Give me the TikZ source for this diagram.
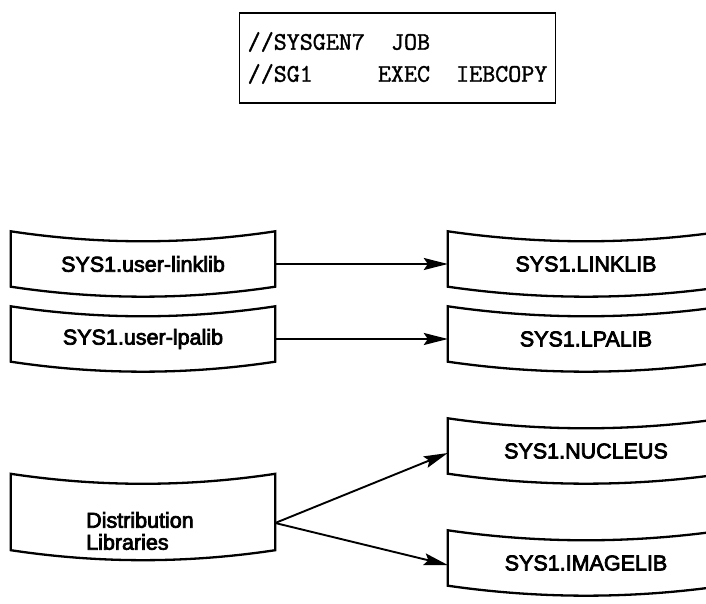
\documentclass[tikz,border=0pt]{standalone}
\usepackage{fontspec}
\newfontfamily\diskfont[FakeBold=3.5]{Liberation Sans}
\newfontfamily\jclfont[FakeBold=1.5]{Latin Modern Mono}
\usetikzlibrary{arrows.meta,calc}

% outline of a disk data set: both ends sag downwards
\newcommand\diskoutline[1]{%
  \draw[diskline] let \p1=(#1.north west), \p2=(#1.south east) in
    (\x1,\y1+5pt)
      .. controls ({\x1+(\x2-\x1)/3},\y1-8.3pt) and ({\x1+2*(\x2-\x1)/3},\y1-8.3pt) .. (\x2,\y1+5pt)
    -- (\x2,\y2+5pt)
      .. controls ({\x1+2*(\x2-\x1)/3},\y2-8.3pt) and ({\x1+(\x2-\x1)/3},\y2-8.3pt) .. (\x1,\y2+5pt)
    -- cycle;}

\tikzset{
  disktext/.style={font=\diskfont\fontsize{21.5}{22}\selectfont},
  disk/.style={disktext, minimum width=#1, minimum height=55pt, inner sep=0pt},
  diskline/.style={line width=2.3pt, line join=miter},
  flow/.style={line width=1.9pt, -{Stealth[length=24pt,width=12pt,inset=4pt]}},
  jclbox/.style={draw, line width=1.6pt, minimum width=316pt, minimum height=90pt,
    inner sep=0pt, align=left, font=\jclfont\fontsize{25.3}{32}\selectfont}
}

\begin{document}
\begin{tikzpicture}[x=1pt,y=-1pt]
\useasboundingbox (0,0) rectangle (706,604);
\clip (0,0) rectangle (706,604);

% job control statements
\node[jclbox] (jcl) at (397.5,58) {//SYSGEN7\ \ JOB\\//SG1\ \ \ \ \ EXEC\ \ IEBCOPY};

% input libraries
\node[disk=264pt] (ulink) at (143,264) {SYS1.user-linklib};
\node[disk=264pt] (ulpa)  at (143,339) {SYS1.user-lpalib};
\node[disk=264pt, minimum height=76pt] (dist) at (143,517) {};
\node[disktext, anchor=west, align=left, inner sep=0pt] (disttext) at (86,531)
  {Distribution\\Libraries};

% output libraries
\node[disk=276pt] (link)  at (586,264) {SYS1.LINKLIB};
\node[disk=276pt] (lpa)   at (586,339) {SYS1.LPALIB};
\node[disk=276pt] (nuc)   at (586,451) {SYS1.NUCLEUS};
\node[disk=276pt] (image) at (586,563) {SYS1.IMAGELIB};

\foreach \d in {ulink,ulpa,dist,link,lpa,nuc,image} {\diskoutline{\d}}

% copy steps
\draw[flow] (ulink) -- (link);
\draw[flow] (ulpa) -- (lpa);
\coordinate (fork) at ([yshift=-6pt]dist.east);
\draw[flow] (fork) -- ([yshift=-2pt]nuc.west);
\draw[flow] (fork) -- ([yshift=-2pt]image.west);
\end{tikzpicture}
\end{document}
